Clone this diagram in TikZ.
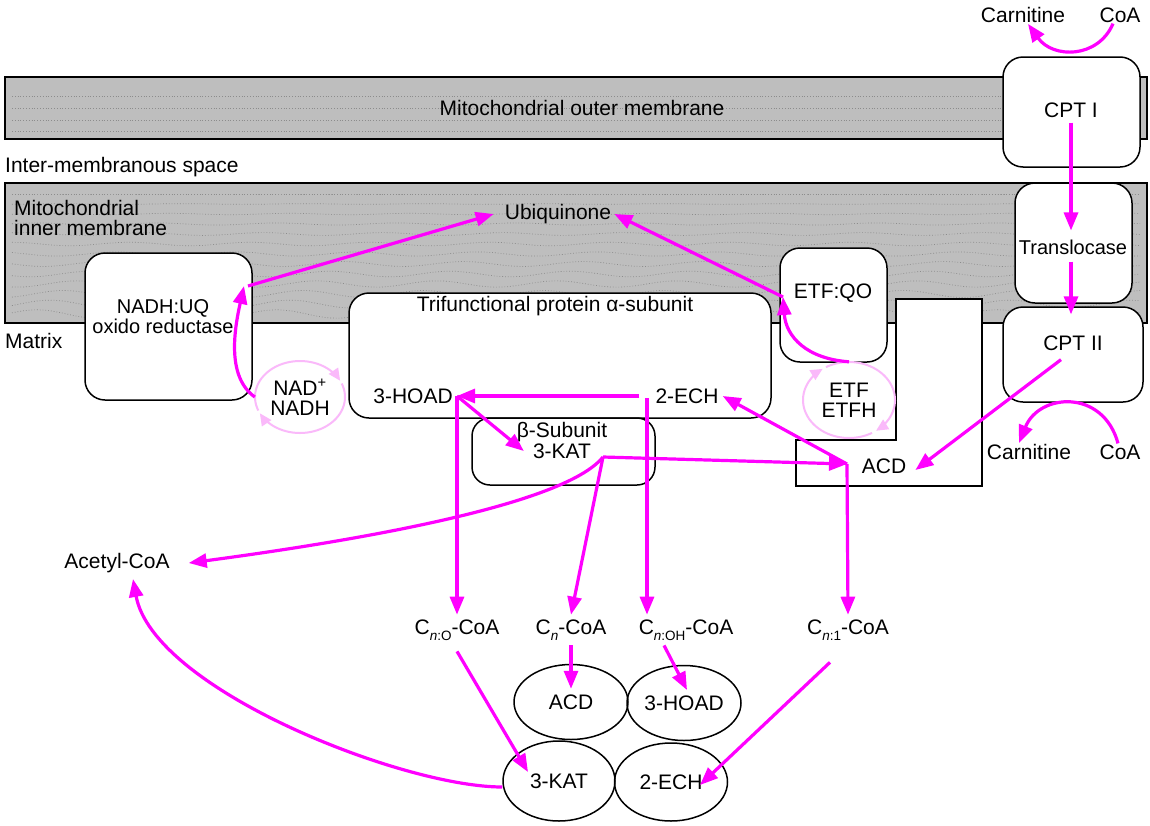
\documentclass[tikz,border=0pt]{standalone}
\usepackage{fontspec}
\setmainfont{Liberation Sans}
\usepackage{tikz}
\usetikzlibrary{arrows.meta, shapes.geometric}
\definecolor{memgrey}{RGB}{190,190,190}
\definecolor{dotgrey}{RGB}{140,140,140}
\definecolor{fluxpink}{RGB}{255,0,255}
\definecolor{cycpink}{RGB}{250,185,250}
\newcommand{\lbl}{\fontsize{21}{20}\selectfont}
\newcommand{\lblsmall}{\fontsize{20}{20}\selectfont}
\newcommand{\lowsub}[1]{\raisebox{-0.5ex}{\fontsize{13.5}{13.5}\selectfont #1}}

\begin{document}
\begin{tikzpicture}[x=1pt, y=-1pt,
  txt/.style={font=\lbl, inner sep=1pt},
  membrane/.style={draw=black, line width=1.6pt, fill=memgrey},
  memdots/.style={draw=dotgrey, line width=0.7pt, dash pattern=on 0.8pt off 2pt},
  protbox/.style={draw=black, line width=1.5pt, fill=white, rounded corners=20pt, inner sep=0pt},
  acdwall/.style={draw=black, line width=1.5pt, fill=white},
  enzring/.style={ellipse, draw=black, line width=1.5pt, inner sep=0pt, font=\lbl},
  cycnode/.style={ellipse, inner sep=0pt, align=center, font=\lbl},
  flux/.style={-{Triangle[length=18pt, width=14pt]}, line width=3.2pt, draw=fluxpink},
  cyc/.style={-{Triangle[length=12pt, width=11pt]}, line width=2pt, draw=cycpink},
]
\useasboundingbox (0,0) rectangle (1150,825);
\fill[white] (0,0) rectangle (1150,825);

\draw[membrane] (5,77) rectangle (1147,139);
\draw[membrane] (5,183) rectangle (1147,323);
\foreach \yy in {96,108,120,131}
  \draw[memdots] (12,\yy) -- (1140,\yy);
\foreach \yy [count=\k] in {194,204,...,314}
  \draw[memdots] plot[domain=12:1140, samples=90, smooth] (\x, {\yy+(\k-1)*0.35*sin(3*\x+40*\k)});

\node[protbox, minimum width=137pt, minimum height=110pt] (cptIbox) at (1071.5,112) {};
\node[protbox, minimum width=117pt, minimum height=120pt] (translbox) at (1073.5,243) {};
\node[protbox, minimum width=140pt, minimum height=95pt] (cptIIbox) at (1073,354.5) {};
\node[protbox, minimum width=167pt, minimum height=147pt] (nadhbox) at (168.5,326.5) {};
\node[protbox, minimum width=422pt, minimum height=125pt] (trifbox) at (560,355.5) {};
\node[protbox, minimum width=107pt, minimum height=114pt] (etfqobox) at (833.5,305) {};
\node[protbox, rounded corners=18pt, minimum width=183pt, minimum height=67pt] (betabox) at (563.5,451.5) {};
\draw[acdwall] (896,299) -- (982,299) -- (982,486) -- (796,486) -- (796,440) -- (896,440) -- cycle;

\node[txt] (outerlab) at (582,108) {Mitochondrial outer membrane};
\node[txt] (cptI) at (1071,110) {CPT I};
\node[txt] (carnT) at (1023,15) {Carnitine};
\node[txt] (coaT) at (1120,15) {CoA};
\node[txt, anchor=west] (interlab) at (4,167) {Inter-membranous space};
\node[txt, anchor=north west, align=left] (innerlab) at (13,199) {Mitochondrial\\inner membrane};
\node[txt] (ubq) at (558,214) {Ubiquinone};
\node[txt, font=\lblsmall] (transl) at (1073,247) {Translocase};
\node[txt, font=\lblsmall, align=center] (nadhlab) at (163,317) {NADH:UQ\\oxido reductase};
\node[txt] (triflab) at (555,306) {Trifunctional protein α-subunit};
\node[txt] (etfqo) at (833,293) {ETF:QO};
\node[txt, anchor=west] (matrix) at (4,341) {Matrix};
\node[txt] (cptII) at (1073,343) {CPT II};
\node[txt] (hoad) at (413,396) {3-HOAD};
\node[txt] (ech) at (687,396) {2-ECH};
\node[txt] (betalab) at (562,432) {β-Subunit};
\node[txt] (kat) at (562,451) {3-KAT};
\node[txt] (acd) at (884,466) {ACD};
\node[txt] (carnB) at (1029,452) {Carnitine};
\node[txt] (coaB) at (1120,452) {CoA};
\node[txt] (acetyl) at (117,563) {Acetyl-CoA};
\node[txt] (cnO) at (457,630) {C\lowsub{\textit{n}:O}-CoA};
\node[txt] (cn) at (571,630) {C\lowsub{\textit{n}}-CoA};
\node[txt] (cnOH) at (686,630) {C\lowsub{\textit{n}:OH}-CoA};
\node[txt] (cn1) at (848,630) {C\lowsub{\textit{n}:1}-CoA};

\node[cycnode, minimum width=90pt, minimum height=72pt] (nad) at (300,397) {NAD\textsuperscript{+}\\NADH};
\node[cycnode, minimum width=92pt, minimum height=76pt] (etf) at (849,400) {ETF\\ETFH};
\draw[cyc, shift={(nad.center)}] plot[domain=158:333, samples=40, smooth] ({45*cos(\x)}, {36*sin(\x)});
\draw[cyc, shift={(nad.center)}] plot[domain=-22:153, samples=40, smooth] ({45*cos(\x)}, {36*sin(\x)});
\draw[cyc, shift={(etf.center)}] plot[domain=60:235, samples=40, smooth] ({46*cos(\x)}, {38*sin(\x)});
\draw[cyc, shift={(etf.center)}] plot[domain=240:414, samples=40, smooth] ({46*cos(\x)}, {38*sin(\x)});

\node[enzring, minimum width=114pt, minimum height=75pt] (acd2) at (571,702) {ACD};
\node[enzring, minimum width=114pt, minimum height=75pt] (hoad2) at (684,703) {3-HOAD};
\node[enzring, minimum width=112pt, minimum height=80pt] (kat2) at (559,781) {3-KAT};
\node[enzring, minimum width=113pt, minimum height=78pt] (ech2) at (671,782) {2-ECH};

\coordinate (nadhin) at (244,286);
\coordinate (etfqoin) at (783,297);
\coordinate (hoadj) at (457,396);
\coordinate (echj) at (647,398);
\coordinate (katj) at (603,457);
\coordinate (acdj) at (847,464);
\coordinate (cnOHin) at (echj |- cnOH.north);

\draw[flux] ([xshift=-7pt]coaT.south) .. controls +(-15,35) and +(25,35) .. ([xshift=5pt]carnT.south);
\draw[flux] ([yshift=-4pt]cptI.south) -- ([yshift=8pt]cptI.south |- transl.north);
\draw[flux] ([yshift=-6pt]cptI.south |- transl.south) -- ([yshift=20pt]cptI.south |- cptII.north);
\draw[flux] ([xshift=-12pt,yshift=-8pt]cptII.south) -- ([xshift=8pt,yshift=-4pt]acd.east);
\draw[flux] ([xshift=-2pt]coaB.north) .. controls +(-15,-55) and +(20,-50) .. ([xshift=-10pt]carnB.north);
\draw[flux] (nad.west) .. controls +(-28,-20) and +(-10,45) .. (nadhin);
\draw[flux] ([xshift=4pt]nadhin) -- ([xshift=-10pt]ubq.west);
\draw[flux] (etf.north) .. controls +(-42,-3) and +(3,40) .. (etfqoin);
\draw[flux] (etfqoin) -- ([xshift=2pt]ubq.east);
\draw[flux] ([xshift=-15pt]ech.west) -- (hoadj);
\draw[flux] (hoadj) -- ([yshift=4pt]cnO.north);
\draw[flux] (hoadj) -- ([xshift=-8pt]kat.west);
\draw[flux] (echj) -- ([yshift=4pt]cnOHin);
\draw[flux] (katj) -- (acdj);
\draw[flux] (acdj) -- ([xshift=3pt]ech.east);
\draw[flux] (acdj) -- ([yshift=4pt]cn1.north);
\draw[flux] (katj) -- ([yshift=4pt]cn.north);
\draw[flux] (katj) .. controls +(-40,50) and +(150,-20) .. ([xshift=18pt]acetyl.east);
\draw[flux] ([yshift=-4pt]cn.south) -- ([yshift=-25pt]acd2.north);
\draw[flux] ([xshift=-22pt,yshift=-4pt]cnOH.south) -- ([xshift=3pt,yshift=13pt]hoad2.center);
\draw[flux] ([yshift=-10pt]cnO.south) -- ([xshift=-31pt,yshift=9pt]kat2.center);
\draw[flux] ([xshift=-18pt,yshift=-21pt]cn1.south) -- ([xshift=29pt,yshift=-3pt]ech2.center);
\draw[flux] ([yshift=-6pt]kat2.west) .. controls +(-100,0) and +(20,110) .. ([xshift=16pt,yshift=-5pt]acetyl.south);
\end{tikzpicture}
\end{document}
